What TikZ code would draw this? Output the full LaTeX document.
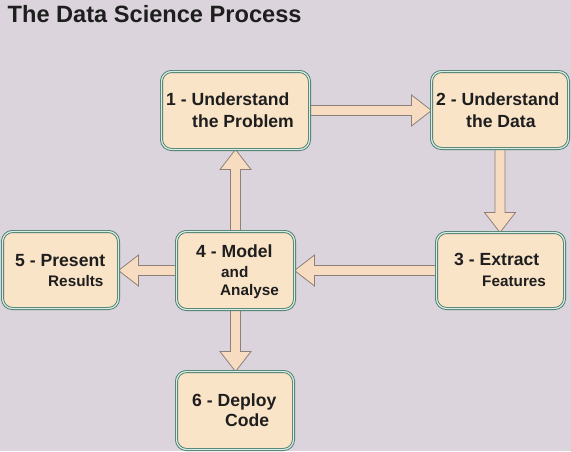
\documentclass[tikz,border=0pt]{standalone}
\usepackage{fontspec}
\setmainfont{Liberation Sans}
\usetikzlibrary{calc,backgrounds}
\definecolor{bgc}{HTML}{DCD4DC}
\definecolor{boxline}{HTML}{4A7A6C}
\definecolor{boxgap}{HTML}{D6EEE4}
\definecolor{boxfill}{HTML}{FAE4C8}
\definecolor{arrfill}{HTML}{F7DCC2}
\definecolor{arrline}{HTML}{8C8078}
\definecolor{txt}{HTML}{1E1E1E}
\newcommand{\harrow}[2]{%
  \draw[blk] let \p1=(#1), \p2=(#2), \n1={ifthenelse(\x2>\x1,20,-20)} in
    (\x1,\y1+5pt) -- (\x2-\n1,\y1+5pt) -- (\x2-\n1,\y1+15.5pt) -- (\x2,\y1)
    -- (\x2-\n1,\y1-15.5pt) -- (\x2-\n1,\y1-5pt) -- (\x1,\y1-5pt) -- cycle;}
\newcommand{\varrow}[2]{%
  \draw[blk] let \p1=(#1), \p2=(#2), \n1={ifthenelse(\y2>\y1,20,-20)} in
    (\x1+5pt,\y1) -- (\x1+5pt,\y2-\n1) -- (\x1+15.5pt,\y2-\n1) -- (\x1,\y2)
    -- (\x1-15.5pt,\y2-\n1) -- (\x1-5pt,\y2-\n1) -- (\x1-5pt,\y1) -- cycle;}
\begin{document}
\begin{tikzpicture}[x=1pt,y=-1pt,
  box/.style={draw=boxline, double=boxgap, double distance=1.2pt, line width=0.9pt,
    fill=boxfill, rounded corners=10pt, inner sep=0pt, outer sep=0pt},
  blk/.style={draw=arrline, fill=arrfill, line width=0.8pt, line join=miter},
  lbl/.style={anchor=base west, inner sep=0pt, text=txt,
    font=\bfseries\fontsize{17.6}{20}\selectfont},
  lbls/.style={lbl, font=\bfseries\fontsize{15.3}{18}\selectfont},
  ttl/.style={anchor=base west, inner sep=0pt, text=txt,
    font=\bfseries\fontsize{23.6}{28}\selectfont}]
\useasboundingbox (0,0) rectangle (571,451);

\node[box, minimum width=148pt, minimum height=78pt] (b1) at (235.5,110.5) {};
\node[box, minimum width=137pt, minimum height=77pt] (b2) at (500,110) {};
\node[box, minimum width=128pt, minimum height=76pt] (b3) at (500.5,270.5) {};
\node[box, minimum width=118pt, minimum height=78pt] (b4) at (235.5,270.5) {};
\node[box, minimum width=116pt, minimum height=77pt] (b5) at (60.5,270) {};
\node[box, minimum width=117pt, minimum height=78pt] (b6) at (235,410.5) {};

\begin{pgfonlayer}{background}
  \fill[bgc] (0,0) rectangle (571,451);
  \harrow{b1.east}{b2.west}
  \varrow{b2.south}{b3.north}
  \harrow{b3.west}{b4.east}
  \harrow{b4.west}{b5.east}
  \varrow{b4.north}{b1.south}
  \varrow{b4.south}{b6.north}
\end{pgfonlayer}

\node[ttl] (title) at (7.5,22) {The Data Science Process};

\node[lbl] (t1a) at (166,105) {1 - Understand};
\node[lbl] (t1b) at (192,127) {the Problem};
\node[lbl] (t2a) at (436,105) {2 - Understand};
\node[lbl] (t2b) at (466,127) {the Data};
\node[lbl] (t3a) at (454,265) {3 - Extract};
\node[lbls] (t3b) at (482,286) {Features};
\node[lbl] (t4a) at (196,257) {4 - Model};
\node[lbls] (t4b) at (221,277) {and};
\node[lbls] (t4c) at (220,295) {Analyse};
\node[lbl] (t5a) at (15,266) {5 - Present};
\node[lbls] (t5b) at (48,286) {Results};
\node[lbl] (t6a) at (192,406) {6 - Deploy};
\node[lbl] (t6b) at (225,426) {Code};
\end{tikzpicture}
\end{document}
